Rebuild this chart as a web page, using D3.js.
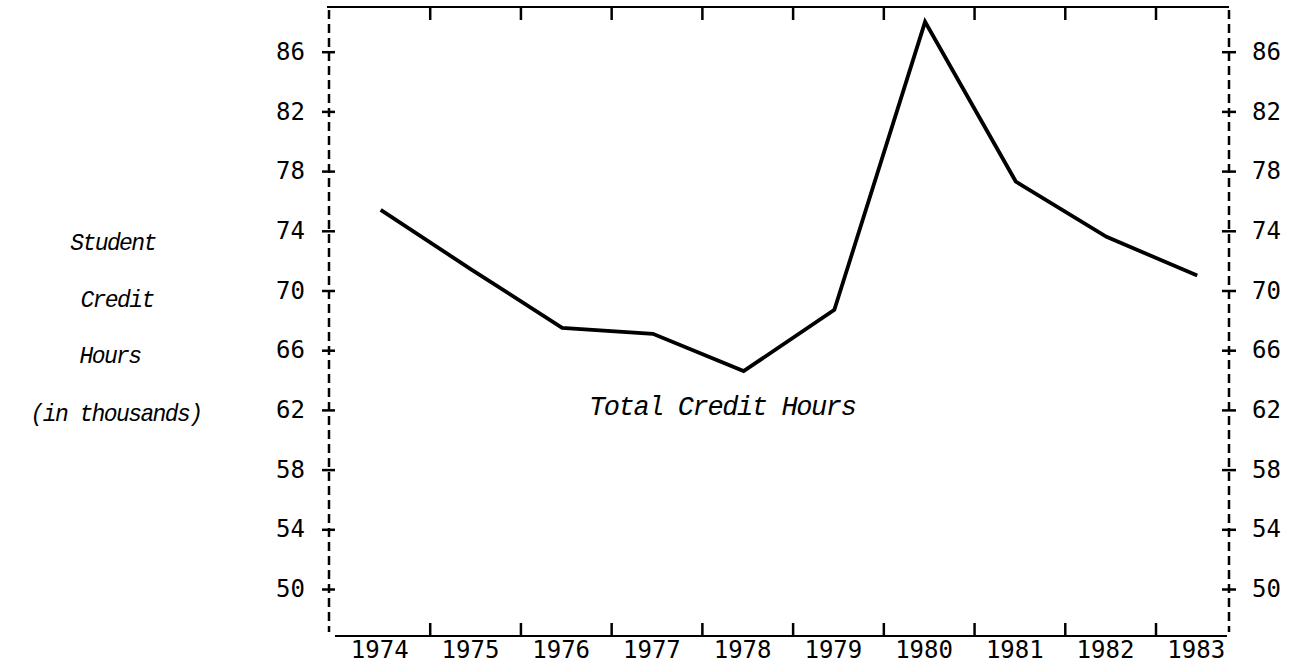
<!DOCTYPE html>
<html>
<head>
<meta charset="utf-8">
<script src="https://cdn.jsdelivr.net/npm/d3@7"></script>
<style>
  html, body { margin: 0; padding: 0; background: #fff; }
  svg { display: block; }
  .num { font-family: "DejaVu Sans Mono", monospace; font-size: 24px; fill: #000; }
  .ital { font-family: "Liberation Mono", "Courier New", monospace; font-style: italic; fill: #000; }
</style>
</head>
<body>
<svg id="chart" width="1299" height="664"></svg>
<script>
// Academic years shown along the bottom
const years = [1974, 1975, 1976, 1977, 1978, 1979, 1980, 1981, 1982, 1983];
const yearLabels = ["1974", "1975", "1976", "1977", "1978", "1979", "1980", "1981", "1982", "1983"];
// Total student credit hours, in thousands
const creditHours = [75.4, 71.4, 67.5, 67.1, 64.6, 68.7, 88.0, 77.3, 73.6, 71.0];
// Vertical axis tick values (both sides)
const yTicks = [50, 54, 58, 62, 66, 70, 74, 78, 82, 86];
const axisTitleLines = ["Student", "Credit", "Hours", "(in thousands)"];
const seriesLabel = "Total Credit Hours";

const svg = d3.select("#chart");

// Frame layout
const frameLeft = 329, frameRight = 1229, frameTop = 7, frameBottom = 636;

const x = d3.scaleLinear().domain([1973.43, 1983.35]).range([frameLeft, frameRight]);
const y = d3.scaleLinear().domain([50, 86]).range([589, 51.7]);

// Top border
svg.append("line")
  .attr("x1", frameLeft - 2).attr("x2", frameRight)
  .attr("y1", frameTop).attr("y2", frameTop)
  .attr("stroke", "#000").attr("stroke-width", 2.2);

// Bottom axis line
svg.append("line")
  .attr("x1", frameLeft + 6).attr("x2", frameRight - 2)
  .attr("y1", frameBottom).attr("y2", frameBottom)
  .attr("stroke", "#000").attr("stroke-width", 2.2);

// Dashed side axes
[frameLeft, frameRight].forEach(xx => {
  svg.append("line")
    .attr("x1", xx).attr("x2", xx)
    .attr("y1", frameTop + 3).attr("y2", frameBottom - 4)
    .attr("stroke", "#000").attr("stroke-width", 2.5)
    .attr("stroke-dasharray", "9,5");
});

// Category boundary ticks (between years), top and bottom
const boundaries = years.slice(0, -1).map(yr => yr + 0.54);
const bottomAxis = d3.axisBottom(x).tickValues(boundaries).tickFormat("").tickSizeOuter(0).tickSizeInner(-13);
const gB = svg.append("g").attr("transform", `translate(0,${frameBottom})`).call(bottomAxis);
gB.select(".domain").remove();
gB.selectAll(".tick line").attr("stroke", "#000").attr("stroke-width", 2.5);

const topAxis = d3.axisTop(x).tickValues(boundaries).tickFormat("").tickSizeOuter(0).tickSizeInner(-13);
const gT = svg.append("g").attr("transform", `translate(0,${frameTop})`).call(topAxis);
gT.select(".domain").remove();
gT.selectAll(".tick line").attr("stroke", "#000").attr("stroke-width", 2.5);

// Year labels
svg.append("g").selectAll("text")
  .data(years)
  .join("text")
  .attr("class", "num")
  .attr("x", d => x(d) - 1)
  .attr("y", 658)
  .attr("text-anchor", "middle")
  .text((d, i) => yearLabels[i]);

// Left value axis with cross ticks
const leftAxis = d3.axisLeft(y).tickValues(yTicks).tickSizeOuter(0).tickSize(7).tickPadding(17).tickFormat(d3.format("d"));
const gL = svg.append("g").attr("transform", `translate(${frameLeft},0)`).call(leftAxis);
gL.select(".domain").remove();
gL.selectAll(".tick line").attr("x1", -7).attr("x2", 6).attr("stroke", "#000").attr("stroke-width", 2.5);
gL.selectAll(".tick text").attr("class", "num").attr("font-family", null).attr("font-size", null).attr("fill", null);

// Right value axis with cross ticks
const rightAxis = d3.axisRight(y).tickValues(yTicks).tickSizeOuter(0).tickSize(7).tickPadding(16).tickFormat(d3.format("d"));
const gR = svg.append("g").attr("transform", `translate(${frameRight},0)`).call(rightAxis);
gR.select(".domain").remove();
gR.selectAll(".tick line").attr("x1", -7).attr("x2", 7).attr("stroke", "#000").attr("stroke-width", 2.5);
gR.selectAll(".tick text").attr("class", "num").attr("font-family", null).attr("font-size", null).attr("fill", null);

// Data line
const line = d3.line()
  .x((d, i) => x(years[i]))
  .y(d => y(d));
svg.append("path")
  .datum(creditHours)
  .attr("d", line)
  .attr("fill", "none")
  .attr("stroke", "#000")
  .attr("stroke-width", 3.8)
  .attr("stroke-linejoin", "miter")
  .attr("stroke-miterlimit", 10);

// Series label
svg.append("text")
  .attr("class", "ital")
  .attr("x", 589).attr("y", 415)
  .attr("font-size", 27)
  .attr("letter-spacing", -1.4)
  .text(seriesLabel);

// Axis title, stacked lines
const titleY = [250, 307, 363, 421];
const titleX = [113, 117, 110, 116];
svg.append("g").selectAll("text")
  .data(axisTitleLines)
  .join("text")
  .attr("class", "ital")
  .attr("font-size", 23)
  .attr("letter-spacing", -1.6)
  .attr("x", (d, i) => titleX[i])
  .attr("y", (d, i) => titleY[i])
  .attr("text-anchor", "middle")
  .text(d => d);
</script>
</body>
</html>
